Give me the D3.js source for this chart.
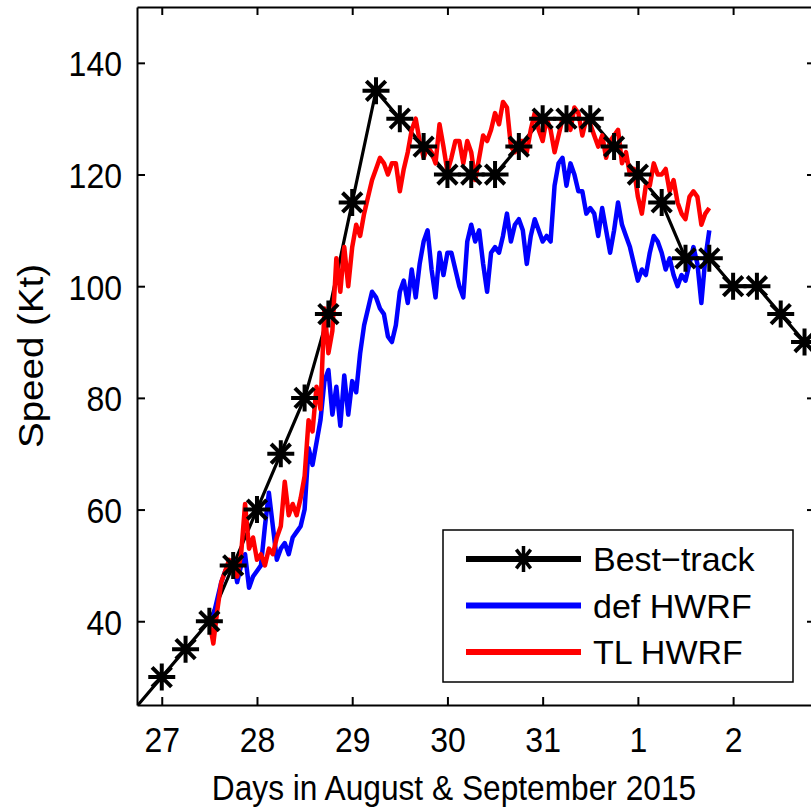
<!DOCTYPE html>
<html>
<head>
<meta charset="utf-8">
<script src="https://cdn.jsdelivr.net/npm/d3@7"></script>
<style>
  html, body { margin: 0; padding: 0; background: #fff; }
  svg { display: block; font-family: "Liberation Sans", Arial, Helvetica, sans-serif; }
</style>
</head>
<body>
<svg id="chart" width="811" height="810"></svg>
<script>
// Best-track intensity, 6-hourly (day of August; 32 = 1 September)
const bestTrackDay = [26.5, 26.75, 27, 27.25, 27.5, 27.75, 28, 28.25, 28.5, 28.75, 29, 29.25,
  29.5, 29.75, 30, 30.25, 30.5, 30.75, 31, 31.25, 31.5, 31.75, 32, 32.25, 32.5, 32.75,
  33, 33.25, 33.5, 33.75, 34];
const bestTrackSpeed = [20, 25, 30, 35, 40, 50, 60, 70, 80, 95, 115, 135,
  130, 125, 120, 120, 120, 125, 130, 130, 130, 125, 120, 115, 105, 105,
  100, 100, 95, 90, 85];

// Hourly model output, forecast initialised 27 August 12 UTC
const forecastStartDay = 27.5;
const defHWRF = [40, 41, 44, 47, 49, 50, 51, 47, 50, 52, 46, 48, 49, 50, 57, 63, 57, 51, 53, 54,
  52, 55, 56, 57, 60, 71, 68, 72, 76, 83, 85, 77, 82, 75, 84, 77, 83, 81, 88, 93,
  96, 99, 98, 96, 95, 91, 90, 93, 99, 101, 97, 103, 98, 104, 108, 110, 103, 98, 106, 102,
  106, 106, 103, 100, 98, 108, 111, 108, 110, 104, 99, 106, 107, 106, 109, 113, 108, 111, 112, 110,
  104, 109, 112, 110, 108, 109, 108, 118, 122, 123, 118, 122, 120, 117, 117, 113, 114, 113, 109, 114,
  110, 106, 110, 115, 111, 109, 107, 104, 101, 103, 102, 106, 109, 108, 106, 103, 105, 102, 100, 102,
  101, 104, 107, 104, 97, 105, 110];
const tlHWRF = [40, 36, 42, 47, 49, 51, 49.5, 48, 52, 61, 53, 55, 51, 52, 50, 53, 52, 55, 57, 65,
  59, 61, 59, 62, 66, 76, 74, 82, 78, 96, 88, 92, 105, 99, 107, 100, 107, 111, 109, 113,
  116, 119, 121, 123, 122, 120, 122, 122, 117, 121, 124, 128, 130, 126, 123, 125, 124, 122, 129, 125,
  120.5, 123, 126, 126, 122, 126, 124, 119, 123, 127, 126, 128, 131, 129, 133, 132, 125, 124, 126, 126,
  124, 128, 131, 128, 126, 130, 128, 124, 127, 130, 130, 128, 132, 131, 127, 130, 129, 127, 125, 127,
  123, 126, 127, 128, 122, 124, 120, 121, 116, 113, 118, 118, 122, 120, 120, 121, 117, 119, 115, 113,
  112, 116, 117, 116, 111, 113, 114];

// Axis ticks
const xTickDays = [27, 28, 29, 30, 31, 32, 33];
const xTickLabels = ["27", "28", "29", "30", "31", "1", "2"];
const yTickValues = [40, 60, 80, 100, 120, 140];

const legendEntries = [
  { label: "Best\u2212track", color: "#000000", marker: true },
  { label: "def HWRF", color: "#0000ff", marker: false },
  { label: "TL HWRF", color: "#ff0000", marker: false }
];

const svg = d3.select("#chart");
const plot = { left: 137, right: 815, top: 7, bottom: 705 };

const x = d3.scaleLinear().domain([26.74, 33.86]).range([plot.left, plot.right]);
const y = d3.scaleLinear().domain([25, 150]).range([plot.bottom, plot.top]);

svg.append("defs").append("clipPath").attr("id", "plot-clip")
  .append("rect")
  .attr("x", plot.left).attr("y", plot.top)
  .attr("width", plot.right - plot.left).attr("height", plot.bottom - plot.top);

// Asterisk marker: horizontal, vertical and two diagonal strokes
function asteriskPath(rx, ry) {
  const dx = rx * 0.72, dy = ry * 0.72;
  return `M${-rx},0L${rx},0M0,${-ry}L0,${ry}M${-dx},${-dy}L${dx},${dy}M${-dx},${dy}L${dx},${-dy}`;
}

const data = svg.append("g").attr("clip-path", "url(#plot-clip)");

const bestTrack = bestTrackDay.map((d, i) => ({ day: d, v: bestTrackSpeed[i] }));
const lineGen = d3.line().x(d => x(d.day)).y(d => y(d.v));

data.append("path")
  .datum(bestTrack)
  .attr("d", lineGen)
  .attr("fill", "none")
  .attr("stroke", "#000")
  .attr("stroke-width", 3.2)
  .attr("stroke-linejoin", "round");

const [xMin, xMax] = x.domain();
const [yMin, yMax] = y.domain();
svg.append("g").selectAll("path")
  .data(bestTrack.filter(d => d.day > xMin && d.day < xMax && d.v > yMin && d.v < yMax))
  .join("path")
  .attr("transform", d => `translate(${x(d.day)},${y(d.v)})`)
  .attr("d", asteriskPath(13.5, 13.5))
  .attr("fill", "none")
  .attr("stroke", "#000")
  .attr("stroke-width", 4);

function modelSeries(values) {
  return values.map((v, h) => ({ day: forecastStartDay + h / 24, v }));
}

data.append("path")
  .datum(modelSeries(defHWRF))
  .attr("d", lineGen)
  .attr("fill", "none")
  .attr("stroke", "#0000ff")
  .attr("stroke-width", 4.5)
  .attr("stroke-linejoin", "round");

data.append("path")
  .datum(modelSeries(tlHWRF))
  .attr("d", lineGen)
  .attr("fill", "none")
  .attr("stroke", "#ff0000")
  .attr("stroke-width", 4.5)
  .attr("stroke-linejoin", "round");

// Axes: inward ticks on all four sides
function styleAxis(g) {
  g.select(".domain").attr("stroke", "#000").attr("stroke-width", 2);
  g.selectAll(".tick line").attr("stroke", "#000").attr("stroke-width", 2);
}

const xAxis = svg.append("g")
  .attr("transform", `translate(0,${plot.bottom})`)
  .call(d3.axisBottom(x).tickValues(xTickDays)
    .tickFormat((d, i) => xTickLabels[i]).tickSizeInner(-8).tickSizeOuter(0))
  .call(styleAxis);
xAxis.selectAll(".tick text")
  .attr("y", null).attr("dy", null)
  .attr("transform", "translate(0,47) scale(1,1.1)")
  .attr("fill", "#000")
  .attr("font-family", "'Liberation Sans', Arial, sans-serif")
  .attr("font-size", 32);

svg.append("g")
  .attr("transform", `translate(0,${plot.top})`)
  .call(d3.axisTop(x).tickValues(xTickDays).tickFormat("").tickSizeInner(-8).tickSizeOuter(0))
  .call(styleAxis);

const yAxis = svg.append("g")
  .attr("transform", `translate(${plot.left},0)`)
  .call(d3.axisLeft(y).tickValues(yTickValues).tickSizeInner(-8).tickSizeOuter(0))
  .call(styleAxis);
yAxis.selectAll(".tick text")
  .attr("x", null).attr("dy", null)
  .attr("text-anchor", "end")
  .attr("transform", "translate(-15,13) scale(1,1.1)")
  .attr("fill", "#000")
  .attr("font-family", "'Liberation Sans', Arial, sans-serif")
  .attr("font-size", 32);

svg.append("g")
  .attr("transform", `translate(${plot.right},0)`)
  .call(d3.axisRight(y).tickValues(yTickValues).tickFormat("").tickSizeInner(-8).tickSizeOuter(0))
  .call(styleAxis);

// Axis titles
svg.append("text")
  .attr("transform", `translate(${(plot.left + plot.right) / 2 - 22},800) scale(1,1.1)`)
  .attr("text-anchor", "middle")
  .attr("font-size", 31.7)
  .attr("fill", "#000")
  .text("Days in August & September 2015");

svg.append("text")
  .attr("transform", `translate(43,${(plot.top + plot.bottom) / 2}) scale(1,1.1) rotate(-90)`)
  .attr("text-anchor", "middle")
  .attr("font-size", 35)
  .attr("fill", "#000")
  .text("Speed (Kt)");

// Legend
const legend = svg.append("g").attr("transform", "translate(443,530)");
legend.append("rect")
  .attr("width", 350).attr("height", 152)
  .attr("fill", "#fff").attr("stroke", "#000").attr("stroke-width", 1.5);

const rows = legend.selectAll("g.row")
  .data(legendEntries)
  .join("g")
  .attr("class", "row")
  .attr("transform", (d, i) => `translate(0,${29 + i * 46.5})`);

rows.append("line")
  .attr("x1", 23).attr("x2", 138)
  .attr("stroke", d => d.color)
  .attr("stroke-width", 6);

rows.filter(d => d.marker).append("path")
  .attr("transform", "translate(80.5,0)")
  .attr("d", asteriskPath(10, 13))
  .attr("fill", "none")
  .attr("stroke", "#000")
  .attr("stroke-width", 3.5);

rows.append("text")
  .attr("x", 150).attr("y", 12)
  .attr("font-size", 34)
  .attr("fill", "#000")
  .text(d => d.label);
</script>
</body>
</html>
